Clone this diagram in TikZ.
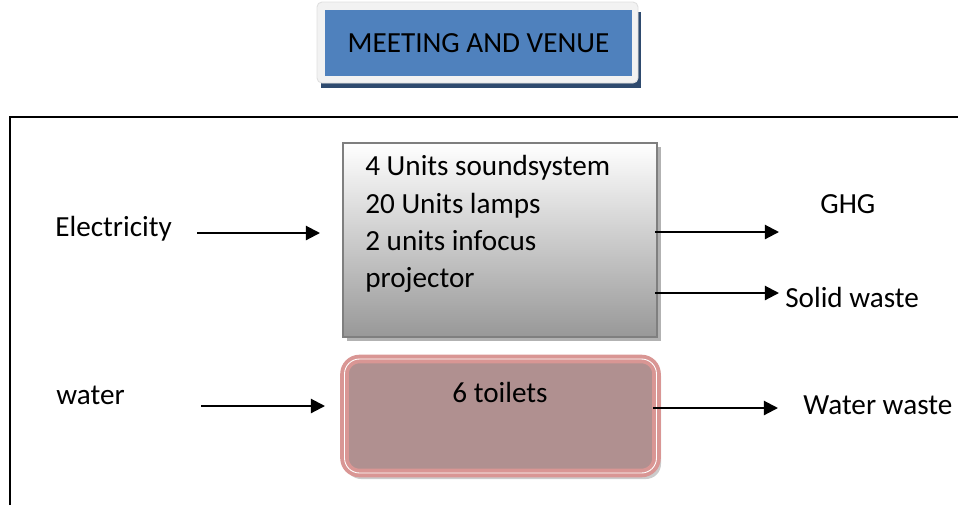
\documentclass[tikz,border=0pt]{standalone}
\usepackage{fontspec}
\setmainfont{Carlito}
\usetikzlibrary{arrows.meta,shadows}
\definecolor{titleblue}{HTML}{4F81BD}
\definecolor{titlenavy}{HTML}{2E4A6E}
\definecolor{titleframe}{HTML}{F2F2F2}
\definecolor{graybot}{HTML}{989898}
\definecolor{grayedge}{HTML}{7F7F7F}
\definecolor{toiletfill}{HTML}{B09090}
\definecolor{toiletedge}{HTML}{D99694}
\begin{document}
\begin{tikzpicture}[x=0.02cm,y=-0.02cm,
  lbl/.style={font=\fontsize{16.6}{21}\selectfont, inner sep=0pt},
  flow/.style={line width=1.2pt, -{Triangle[length=8pt,width=8pt]}},
  gbox/.style={draw=grayedge, line width=1pt, top color=white, bottom color=graybot, minimum width=314*0.02cm, minimum height=194*0.02cm, inner sep=0pt},
  tbox/.style={draw=toiletedge, line width=2.2pt, double=white, double distance=0.5pt, fill=toiletfill, rounded corners=0.3cm, minimum width=312*0.02cm, minimum height=114*0.02cm, inner sep=0pt}]
\useasboundingbox (0,0) rectangle (958,505);
% frame
\draw[line width=1pt] (10,505) -- (10,117) -- (958,117);
% title
\fill[titlenavy] (321,12) rectangle (641,88);
\draw[fill=titleframe, draw=gray!25, line width=0.5pt, rounded corners=0.1cm] (317,2) rectangle (638,83);
\node[fill=titleblue, minimum width=307*0.02cm, minimum height=66*0.02cm, inner sep=0pt, lbl] (title) at (478.5,43) {MEETING AND VENUE};
% gray box
\fill[gray!60] (347,147) rectangle (661,341);
\node[gbox] (gray) at (500,240) {};
\node[lbl, anchor=base west] (l1) at (365,175) {4 Units soundsystem};
\node[lbl, anchor=base west] (l2) at (365,213) {20 Units lamps};
\node[lbl, anchor=base west] (l3) at (365,250) {2 units infocus};
\node[lbl, anchor=base west] (l4) at (365,287) {projector};
% toilets box
\fill[gray!40, rounded corners=0.3cm] (346,361) rectangle (661,479);
\node[tbox] (toil) at (500.5,416) {};
\node[lbl, anchor=base] (t1) at (500,402) {6 toilets};
% labels
\node[lbl, anchor=base west] (elec) at (55,236) {Electricity};
\node[lbl, anchor=base west] (water) at (56,404) {water};
\node[lbl, anchor=base west] (ghg) at (820,213) {GHG};
\node[lbl, anchor=base west] (solid) at (785,307) {Solid waste};
\node[lbl, anchor=base west] (ww) at (803,414) {Water waste};
% arrow coordinates
\coordinate (ea) at (197,233);
\coordinate (eb) at (320,233);
\coordinate (wa) at (201,406);
\coordinate (wb) at (325,406);
\coordinate (ga) at (655,232);
\coordinate (gb) at (779,232);
\coordinate (sa) at (655,293);
\coordinate (sb) at (779,293);
\coordinate (xa) at (653,408);
\coordinate (xb) at (778,408);
\draw[flow] (ea) -- (eb);
\draw[flow] (wa) -- (wb);
\draw[flow] (ga) -- (gb);
\draw[flow] (sa) -- (sb);
\draw[flow] (xa) -- (xb);
\end{tikzpicture}
\end{document}
